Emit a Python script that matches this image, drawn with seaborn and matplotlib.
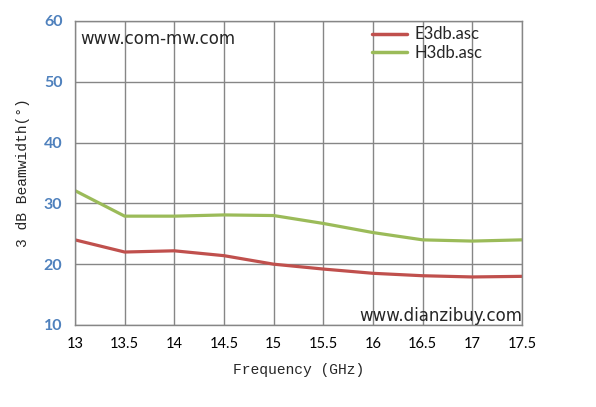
import pandas as pd
import seaborn as sns
import matplotlib.pyplot as plt

# values (GHz / degrees)
freq = [13, 13.5, 14, 14.5, 15, 15.5, 16, 16.5, 17, 17.5]
e3db = [24.0, 22.0, 22.2, 21.4, 20.0, 19.2, 18.5, 18.1, 17.9, 18.0]
h3db = [32.1, 27.9, 27.9, 28.1, 28.0, 26.7, 25.2, 24.0, 23.8, 24.0]

x_ticks = [13, 13.5, 14, 14.5, 15, 15.5, 16, 16.5, 17, 17.5]
x_tick_labels = ['13', '13.5', '14', '14.5', '15', '15.5', '16', '16.5', '17', '17.5']
y_ticks = [10, 20, 30, 40, 50, 60]

df = pd.DataFrame({'freq': freq + freq,
                   'bw': e3db + h3db,
                   'series': ['E3db.asc'] * len(freq) + ['H3db.asc'] * len(freq)})

sns.set_style('white')
plt.rcParams['font.family'] = ['Lato', 'DejaVu Sans']

fig = plt.figure(figsize=(5.96, 4.07), dpi=100)
ax = fig.add_axes([0.1258, 0.2015, 0.75, 0.747])

sns.lineplot(data=df, x='freq', y='bw', hue='series',
             palette={'E3db.asc': '#C0504D', 'H3db.asc': '#9BBB59'},
             linewidth=2.3, ax=ax)

ax.set_xlim(13, 17.5)
ax.set_ylim(10, 60)
ax.set_xticks(x_ticks)
ax.set_xticklabels(x_tick_labels, fontsize=10.5, color='black')
ax.set_yticks(y_ticks)
ax.set_yticklabels([str(v) for v in y_ticks], fontsize=11.5,
                   color='#4F81BD', fontweight='bold')
ax.grid(True, color='#868686', linewidth=1)
for s in ax.spines.values():
    s.set_color('#868686')
    s.set_linewidth(1)
ax.tick_params(axis='both', direction='out', length=5, width=1,
               color='#868686', pad=4)

ax.set_xlabel('Frequency (GHz)', family='Liberation Mono', fontsize=10.5, labelpad=8)
ax.set_ylabel('3 dB Beamwidth(°)', family='Liberation Mono', fontsize=10.5, labelpad=10)

leg = ax.legend(loc='upper right', bbox_to_anchor=(0.935, 1.015), frameon=False,
                fontsize=12, handlelength=2.1, handletextpad=0.45,
                labelspacing=0.15, borderaxespad=0.2)
for line in leg.get_lines():
    line.set_linewidth(2.5)

ax.text(0.012, 0.94, 'www.com-mw.com', transform=ax.transAxes,
        fontsize=12, family='DejaVu Sans', va='center')
ax.text(1.0, 0.03, 'www.dianzibuy.com', transform=ax.transAxes,
        fontsize=12, family='DejaVu Sans', ha='right', va='center')

fig.savefig('out.png', dpi=100)
